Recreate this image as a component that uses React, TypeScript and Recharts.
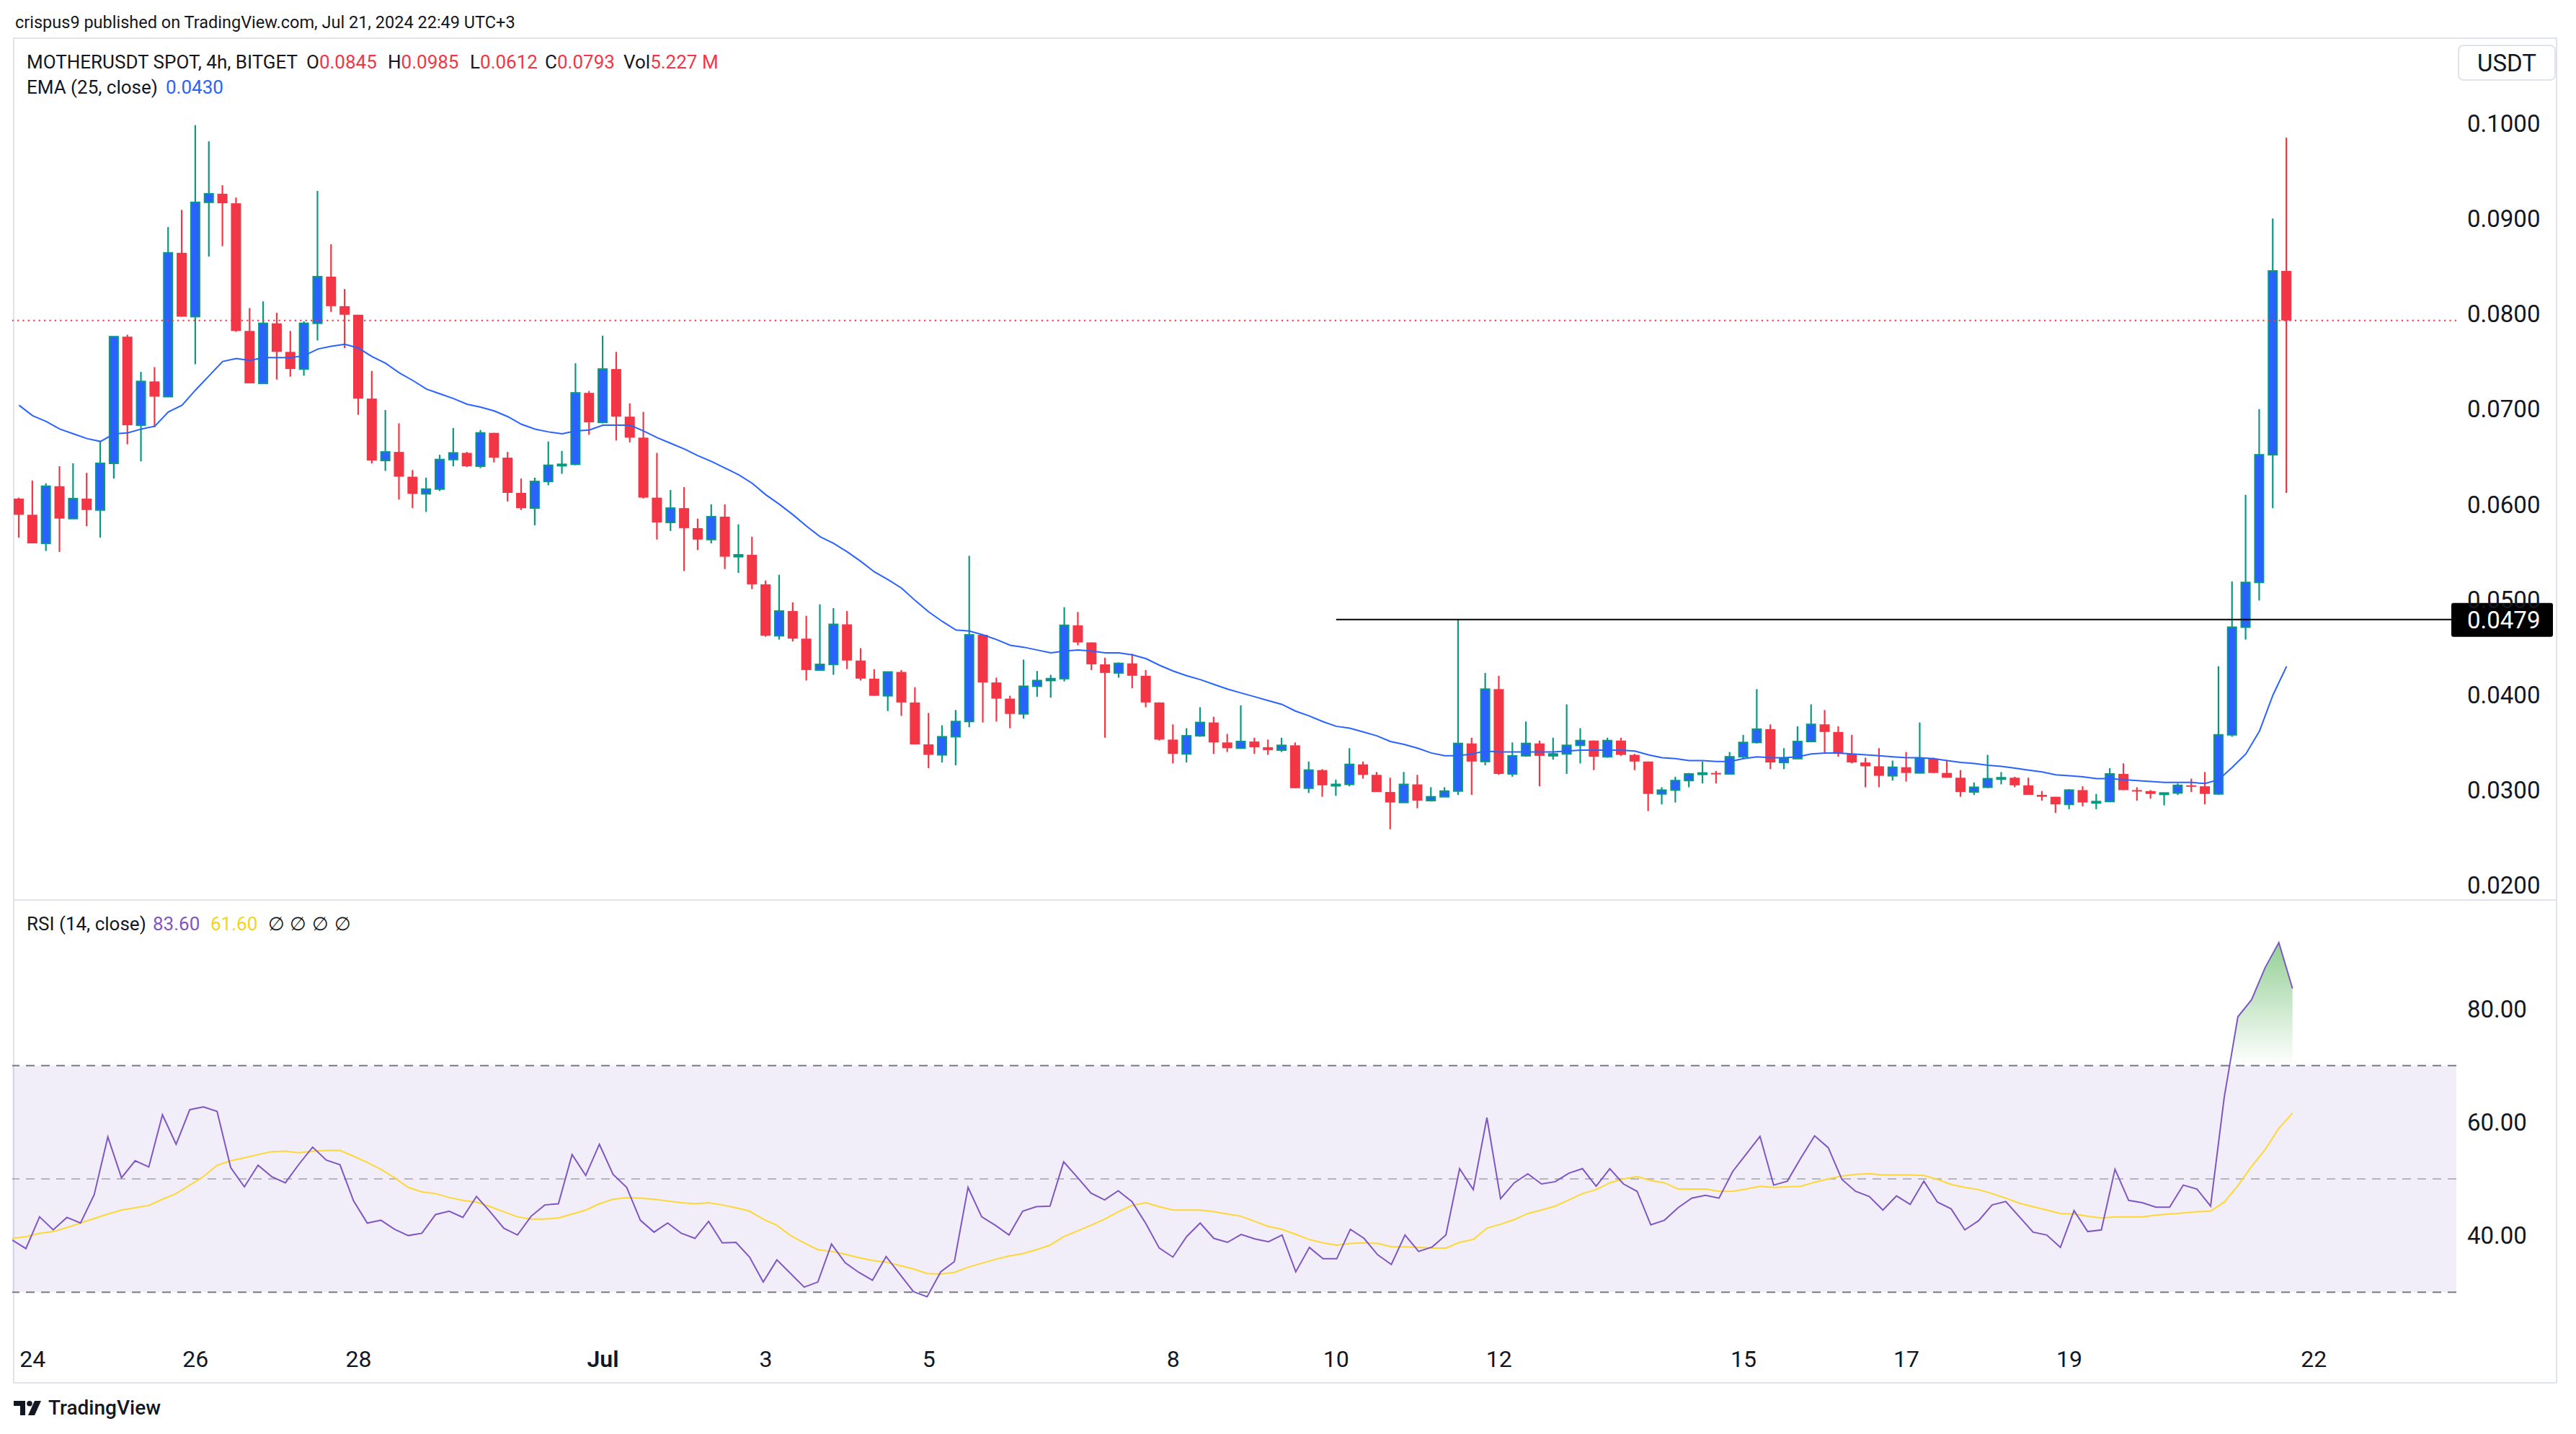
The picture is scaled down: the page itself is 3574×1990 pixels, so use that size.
import React from 'react';
import { ComposedChart, Bar, Line, Area, XAxis, YAxis, ReferenceLine, ReferenceArea } from 'recharts';

const FONT = 'Roboto, "Noto Sans", sans-serif';
const INK = '#131722';
const UP_FILL = '#2962ff';
const UP_EDGE = '#089981';
const DOWN = '#f23645';
const FRAME = '#e0e3eb';

// MOTHERUSDT 4h candles, Jun 23 20:00 -> Jul 21 16:00
const opens = [
  0.0606, 0.0589, 0.0559, 0.0619, 0.0585, 0.0606, 0.0594, 0.0643, 0.0776, 0.0683,
  0.0729, 0.0713, 0.0864, 0.0797, 0.0917, 0.0926, 0.0916, 0.0782, 0.0727, 0.0790,
  0.0760, 0.0742, 0.0790, 0.0839, 0.0808, 0.0799, 0.0711, 0.0646, 0.0655, 0.0629,
  0.0611, 0.0616, 0.0647, 0.0654, 0.0640, 0.0675, 0.0649, 0.0612, 0.0596, 0.0624,
  0.0641, 0.0642, 0.0717, 0.0686, 0.0742, 0.0692, 0.0670, 0.0607, 0.0581, 0.0596,
  0.0575, 0.0563, 0.0587, 0.0545, 0.0547, 0.0516, 0.0462, 0.0488, 0.0459, 0.0426,
  0.0432, 0.0474, 0.0436, 0.0417, 0.0399, 0.0424, 0.0392, 0.0348, 0.0337, 0.0356,
  0.0372, 0.0463, 0.0413, 0.0396, 0.0380, 0.0409, 0.0415, 0.0417, 0.0473, 0.0455,
  0.0432, 0.0423, 0.0433, 0.0420, 0.0392, 0.0353, 0.0338, 0.0357, 0.0371, 0.0350,
  0.0344, 0.0351, 0.0345, 0.0342, 0.0347, 0.0302, 0.0321, 0.0305, 0.0306, 0.0327,
  0.0316, 0.0298, 0.0287, 0.0306, 0.0289, 0.0293, 0.0299, 0.0349, 0.0330, 0.0406,
  0.0317, 0.0336, 0.0349, 0.0336, 0.0338, 0.0347, 0.0352, 0.0335, 0.0352, 0.0337,
  0.0330, 0.0296, 0.0300, 0.0310, 0.0317, 0.0318, 0.0317, 0.0335, 0.0350, 0.0364,
  0.0329, 0.0333, 0.0351, 0.0369, 0.0361, 0.0338, 0.0329, 0.0325, 0.0315, 0.0324,
  0.0318, 0.0333, 0.0318, 0.0313, 0.0298, 0.0303, 0.0312, 0.0313, 0.0305, 0.0295,
  0.0293, 0.0285, 0.0300, 0.0287, 0.0288, 0.0317, 0.0300, 0.0299, 0.0296, 0.0297,
  0.0305, 0.0304, 0.0296, 0.0358, 0.0471, 0.0518, 0.0652, 0.0845,
];
const highs = [
  0.0607, 0.0625, 0.0622, 0.0640, 0.0643, 0.0633, 0.0666, 0.0776, 0.0778, 0.0739,
  0.0744, 0.0891, 0.0909, 0.0998, 0.0981, 0.0935, 0.0922, 0.0806, 0.0813, 0.0801,
  0.0782, 0.0792, 0.0929, 0.0873, 0.0826, 0.0799, 0.0740, 0.0699, 0.0685, 0.0636,
  0.0628, 0.0652, 0.0680, 0.0655, 0.0678, 0.0675, 0.0655, 0.0627, 0.0628, 0.0666,
  0.0656, 0.0748, 0.0719, 0.0777, 0.0760, 0.0706, 0.0697, 0.0654, 0.0615, 0.0618,
  0.0585, 0.0600, 0.0600, 0.0579, 0.0566, 0.0520, 0.0526, 0.0497, 0.0483, 0.0495,
  0.0491, 0.0488, 0.0449, 0.0427, 0.0424, 0.0426, 0.0408, 0.0381, 0.0368, 0.0384,
  0.0546, 0.0463, 0.0418, 0.0399, 0.0437, 0.0425, 0.0421, 0.0492, 0.0487, 0.0455,
  0.0439, 0.0434, 0.0443, 0.0426, 0.0392, 0.0369, 0.0365, 0.0387, 0.0377, 0.0359,
  0.0389, 0.0355, 0.0353, 0.0355, 0.0350, 0.0330, 0.0322, 0.0311, 0.0344, 0.0330,
  0.0319, 0.0313, 0.0319, 0.0316, 0.0303, 0.0303, 0.0479, 0.0355, 0.0423, 0.0420,
  0.0350, 0.0372, 0.0352, 0.0355, 0.0390, 0.0365, 0.0352, 0.0355, 0.0355, 0.0338,
  0.0330, 0.0303, 0.0314, 0.0318, 0.0330, 0.0320, 0.0340, 0.0358, 0.0406, 0.0369,
  0.0344, 0.0367, 0.0390, 0.0384, 0.0367, 0.0358, 0.0334, 0.0344, 0.0331, 0.0340,
  0.0371, 0.0334, 0.0331, 0.0321, 0.0308, 0.0337, 0.0319, 0.0314, 0.0313, 0.0299,
  0.0293, 0.0301, 0.0304, 0.0296, 0.0323, 0.0328, 0.0303, 0.0300, 0.0297, 0.0307,
  0.0312, 0.0319, 0.0430, 0.0519, 0.0610, 0.0700, 0.0900, 0.0985,
];
const lows = [
  0.0565, 0.0559, 0.0551, 0.0550, 0.0585, 0.0577, 0.0565, 0.0627, 0.0663, 0.0645,
  0.0681, 0.0713, 0.0797, 0.0747, 0.0860, 0.0871, 0.0781, 0.0727, 0.0727, 0.0731,
  0.0734, 0.0735, 0.0772, 0.0802, 0.0764, 0.0694, 0.0643, 0.0635, 0.0605, 0.0596,
  0.0592, 0.0614, 0.0640, 0.0639, 0.0638, 0.0644, 0.0603, 0.0594, 0.0578, 0.0620,
  0.0632, 0.0641, 0.0673, 0.0685, 0.0667, 0.0665, 0.0606, 0.0563, 0.0572, 0.0530,
  0.0552, 0.0559, 0.0532, 0.0528, 0.0511, 0.0461, 0.0458, 0.0456, 0.0415, 0.0426,
  0.0421, 0.0427, 0.0415, 0.0399, 0.0383, 0.0378, 0.0348, 0.0323, 0.0329, 0.0326,
  0.0366, 0.0371, 0.0372, 0.0365, 0.0375, 0.0398, 0.0397, 0.0414, 0.0452, 0.0426,
  0.0355, 0.0418, 0.0407, 0.0387, 0.0352, 0.0328, 0.0329, 0.0356, 0.0338, 0.0340,
  0.0344, 0.0338, 0.0337, 0.0340, 0.0302, 0.0297, 0.0293, 0.0294, 0.0304, 0.0312,
  0.0298, 0.0259, 0.0287, 0.0281, 0.0288, 0.0293, 0.0295, 0.0295, 0.0326, 0.0316,
  0.0314, 0.0335, 0.0304, 0.0332, 0.0317, 0.0328, 0.0321, 0.0334, 0.0336, 0.0321,
  0.0278, 0.0285, 0.0287, 0.0303, 0.0307, 0.0307, 0.0317, 0.0333, 0.0349, 0.0322,
  0.0322, 0.0333, 0.0351, 0.0338, 0.0335, 0.0328, 0.0303, 0.0303, 0.0310, 0.0309,
  0.0318, 0.0318, 0.0313, 0.0293, 0.0295, 0.0302, 0.0306, 0.0303, 0.0295, 0.0289,
  0.0276, 0.0280, 0.0283, 0.0280, 0.0288, 0.0300, 0.0289, 0.0291, 0.0284, 0.0295,
  0.0298, 0.0285, 0.0295, 0.0356, 0.0458, 0.0499, 0.0596, 0.0612,
];
const closes = [
  0.0589, 0.0559, 0.0619, 0.0585, 0.0606, 0.0594, 0.0643, 0.0776, 0.0683, 0.0729,
  0.0713, 0.0864, 0.0797, 0.0917, 0.0926, 0.0916, 0.0782, 0.0727, 0.0790, 0.0760,
  0.0742, 0.0790, 0.0839, 0.0808, 0.0799, 0.0711, 0.0646, 0.0655, 0.0629, 0.0611,
  0.0616, 0.0647, 0.0654, 0.0640, 0.0675, 0.0649, 0.0612, 0.0596, 0.0624, 0.0641,
  0.0642, 0.0717, 0.0686, 0.0742, 0.0692, 0.0670, 0.0607, 0.0581, 0.0596, 0.0575,
  0.0563, 0.0587, 0.0545, 0.0547, 0.0516, 0.0462, 0.0488, 0.0459, 0.0426, 0.0432,
  0.0474, 0.0436, 0.0417, 0.0399, 0.0424, 0.0392, 0.0348, 0.0337, 0.0356, 0.0372,
  0.0463, 0.0413, 0.0396, 0.0380, 0.0409, 0.0415, 0.0417, 0.0473, 0.0455, 0.0432,
  0.0423, 0.0433, 0.0420, 0.0392, 0.0353, 0.0338, 0.0357, 0.0371, 0.0350, 0.0344,
  0.0351, 0.0345, 0.0342, 0.0347, 0.0302, 0.0321, 0.0305, 0.0306, 0.0327, 0.0316,
  0.0298, 0.0287, 0.0306, 0.0289, 0.0293, 0.0299, 0.0349, 0.0330, 0.0406, 0.0317,
  0.0336, 0.0349, 0.0336, 0.0338, 0.0347, 0.0352, 0.0335, 0.0352, 0.0337, 0.0330,
  0.0296, 0.0300, 0.0310, 0.0317, 0.0318, 0.0317, 0.0335, 0.0350, 0.0364, 0.0329,
  0.0333, 0.0351, 0.0369, 0.0361, 0.0338, 0.0329, 0.0325, 0.0315, 0.0324, 0.0318,
  0.0333, 0.0318, 0.0313, 0.0298, 0.0303, 0.0312, 0.0313, 0.0305, 0.0295, 0.0293,
  0.0285, 0.0300, 0.0287, 0.0288, 0.0317, 0.0300, 0.0299, 0.0296, 0.0297, 0.0305,
  0.0304, 0.0296, 0.0358, 0.0471, 0.0518, 0.0652, 0.0845, 0.0793,
];

// EMA (25, close)
const ema25 = [
  0.0704, 0.0693, 0.0687, 0.0679, 0.0674, 0.0669, 0.0666, 0.0674, 0.0675, 0.0679,
  0.0682, 0.0697, 0.0704, 0.0720, 0.0735, 0.0750, 0.0753, 0.0751, 0.0754, 0.0754,
  0.0754, 0.0756, 0.0763, 0.0766, 0.0768, 0.0764, 0.0755, 0.0748, 0.0738, 0.0730,
  0.0721, 0.0716, 0.0711, 0.0705, 0.0702, 0.0698, 0.0692, 0.0684, 0.0679, 0.0676,
  0.0674, 0.0677, 0.0678, 0.0683, 0.0683, 0.0683, 0.0677, 0.0670, 0.0664, 0.0658,
  0.0651, 0.0645, 0.0638, 0.0631, 0.0622, 0.0610, 0.0600, 0.0589, 0.0577, 0.0566,
  0.0559, 0.0550, 0.0540, 0.0529, 0.0521, 0.0512, 0.0499, 0.0487, 0.0477, 0.0468,
  0.0467, 0.0463, 0.0458, 0.0452, 0.0450, 0.0447, 0.0444, 0.0446, 0.0447, 0.0446,
  0.0444, 0.0444, 0.0442, 0.0438, 0.0431, 0.0425, 0.0420, 0.0416, 0.0411, 0.0406,
  0.0402, 0.0398, 0.0394, 0.0390, 0.0383, 0.0378, 0.0372, 0.0367, 0.0365, 0.0361,
  0.0357, 0.0351, 0.0348, 0.0344, 0.0339, 0.0336, 0.0336, 0.0338, 0.0341, 0.0340,
  0.0340, 0.0340, 0.0340, 0.0340, 0.0341, 0.0342, 0.0342, 0.0342, 0.0342, 0.0341,
  0.0337, 0.0334, 0.0333, 0.0331, 0.0331, 0.0330, 0.0330, 0.0333, 0.0335, 0.0334,
  0.0334, 0.0335, 0.0338, 0.0339, 0.0339, 0.0338, 0.0337, 0.0336, 0.0335, 0.0334,
  0.0334, 0.0333, 0.0331, 0.0329, 0.0328, 0.0326, 0.0325, 0.0323, 0.0321, 0.0319,
  0.0316, 0.0315, 0.0314, 0.0312, 0.0312, 0.0311, 0.0310, 0.0309, 0.0308, 0.0308,
  0.0308, 0.0307, 0.0311, 0.0324, 0.0338, 0.0362, 0.0400, 0.0430,
];

// RSI (14, close) and its moving average
const rsi14 = [
  39.2, 37.7, 43.3, 41.0, 43.2, 42.2, 47.2, 57.4, 50.2, 53.2,
  52.1, 61.3, 56.1, 62.2, 62.7, 61.9, 52.0, 48.6, 52.4, 50.4,
  49.3, 52.6, 55.6, 53.3, 52.5, 46.1, 42.2, 42.7, 41.1, 40.0,
  40.4, 43.7, 44.3, 43.2, 46.9, 44.2, 41.3, 40.1, 43.4, 45.4,
  45.6, 54.3, 50.6, 56.1, 50.8, 48.5, 42.7, 40.6, 42.2, 40.4,
  39.5, 42.5, 38.7, 38.8, 36.2, 31.8, 35.7, 33.3, 30.9, 31.8,
  38.5, 35.2, 33.5, 32.1, 36.3, 33.2, 30.1, 29.2, 33.6, 35.4,
  48.5, 43.3, 41.8, 40.1, 44.3, 45.1, 45.2, 53.0, 50.3, 47.5,
  46.3, 47.9, 46.0, 42.2, 37.8, 36.2, 39.8, 42.2, 39.5, 38.8,
  40.2, 39.4, 38.9, 40.1, 33.6, 37.9, 35.9, 35.9, 41.1, 39.5,
  36.6, 34.9, 40.1, 37.2, 38.0, 40.1, 51.8, 48.1, 60.8, 46.5,
  49.3, 50.9, 49.1, 49.5, 51.0, 51.8, 48.7, 51.8, 49.1, 47.8,
  41.9, 42.7, 44.9, 46.6, 47.1, 46.6, 51.3, 54.4, 57.5, 48.9,
  49.6, 53.7, 57.6, 55.5, 49.9, 47.8, 46.9, 44.5, 47.0, 45.5,
  49.6, 45.9, 44.7, 41.0, 42.6, 45.4, 46.0, 43.3, 40.6, 40.1,
  37.9, 44.4, 40.7, 41.0, 51.7, 46.2, 45.8, 45.0, 45.0, 48.9,
  48.2, 45.2, 64.4, 78.6, 81.6, 87.3, 91.7, 83.6,
];
const rsiMa = [
  39.5, 39.8, 40.4, 40.7, 41.4, 42.2, 43.0, 43.8, 44.5, 44.9,
  45.3, 46.4, 47.4, 48.9, 50.4, 52.4, 53.2, 53.7, 54.3, 54.8,
  54.9, 54.6, 54.9, 55.0, 55.0, 54.0, 52.9, 51.7, 50.2, 48.5,
  47.7, 47.4, 46.7, 46.2, 45.9, 45.1, 44.2, 43.3, 42.9, 42.9,
  43.1, 43.8, 44.5, 45.6, 46.4, 46.7, 46.6, 46.4, 46.1, 45.8,
  45.6, 45.8, 45.4, 44.9, 44.3, 42.9, 41.8, 40.0, 38.7, 37.5,
  37.2, 36.7, 36.1, 35.6, 35.3, 34.7, 34.1, 33.3, 33.2, 33.5,
  34.4, 35.1, 35.8, 36.4, 36.8, 37.5, 38.3, 39.8, 40.8, 41.8,
  42.9, 44.2, 45.3, 45.8, 45.1, 44.5, 44.5, 44.5, 44.2, 43.8,
  43.4, 42.5, 41.6, 41.1, 40.2, 39.3, 38.7, 38.3, 38.6, 38.7,
  38.6, 38.0, 38.0, 37.9, 37.8, 37.8, 38.8, 39.3, 41.3, 42.0,
  42.8, 43.9, 44.5, 45.2, 46.3, 47.4, 48.1, 49.3, 50.0, 50.4,
  49.7, 49.3, 48.2, 48.2, 48.2, 47.8, 47.8, 48.2, 48.7, 48.5,
  48.6, 48.7, 49.4, 50.0, 50.5, 50.8, 50.9, 50.7, 50.7, 50.7,
  50.6, 49.9, 49.0, 48.5, 48.1, 47.4, 46.6, 45.7, 45.1, 44.5,
  43.9, 43.8, 43.4, 43.1, 43.3, 43.3, 43.3, 43.6, 43.8, 44.0,
  44.2, 44.3, 45.9, 48.8, 52.2, 55.2, 58.9, 61.6,
];

// time axis: candle index where each day starts
const dayTicks = [1, 13, 25, 43, 55, 67, 85, 97, 109, 127, 139, 151, 169];
const dayLabels = ['24', '26', '28', 'Jul', '3', '5', '8', '10', '12', '15', '17', '19', '22'];
const priceTicks = [0.02, 0.03, 0.04, 0.05, 0.06, 0.07, 0.08, 0.09, 0.1];
const rsiTicks = [40, 60, 80];

const breakoutLevel = 0.0479;
const breakoutFrom = 97; // drawn from Jul 10
const overboughtFrom = 161;
const slotCount = 180; // candles + empty space on the right

const lastClose = closes[closes.length - 1];

const rows = Array.from({ length: slotCount }, (_, i) => {
  if (i >= closes.length) return { i };
  return {
    i,
    o: opens[i],
    h: highs[i],
    l: lows[i],
    c: closes[i],
    range: [lows[i], highs[i]],
    ema: ema25[i],
    rsi: rsi14[i],
    rsiMa: rsiMa[i],
    ob: i >= overboughtFrom ? rsi14[i] : null,
  };
});

const Candle = (props: any) => {
  const { x, y, width, height, payload } = props;
  if (!payload || payload.o == null || !isFinite(y) || !isFinite(height)) return <g />;
  const { o, h, l, c } = payload;
  const top = Math.min(y, y + height);
  const span = Math.abs(height);
  const py = (p: number) => top + ((h - p) / (h - l)) * span;
  const up = c >= o;
  const cx = x + width / 2;
  const bodyTop = py(Math.max(o, c));
  const bodyH = Math.max(py(Math.min(o, c)) - bodyTop, 2);
  return (
    <g>
      <line x1={cx} x2={cx} y1={py(h)} y2={py(l)} stroke={up ? UP_EDGE : DOWN} strokeWidth={2.2} />
      {up ? (
        <rect x={x + 1} y={bodyTop} width={width - 2} height={bodyH} fill={UP_FILL} stroke={UP_EDGE} strokeWidth={2} />
      ) : (
        <rect x={x} y={bodyTop} width={width} height={bodyH} fill={DOWN} />
      )}
    </g>
  );
};

const LevelTag = (props: any) => {
  const vb = props.viewBox;
  if (!vb) return null;
  const x = vb.x + vb.width;
  const y = vb.y;
  return (
    <g>
      <rect x={x - 7} y={y - 23} width={141} height={47} rx={3} fill="#000" />
      <text x={x + 15} y={y} dy="0.355em" fill="#fff" fontSize={33} fontFamily={FONT}>
        {breakoutLevel.toFixed(4)}
      </text>
    </g>
  );
};

const DayTick = (props: any) => {
  const { x, y, payload } = props;
  const label = dayLabels[dayTicks.indexOf(payload.value)] ?? '';
  return (
    <text x={x} y={y + 22} textAnchor="middle" fontFamily={FONT} fontSize={32} fontWeight={label === 'Jul' ? 600 : 400} fill={INK}>
      {label}
    </text>
  );
};

const axisTick = { fill: INK, fontSize: 33, fontFamily: FONT };

const legendRow: React.CSSProperties = {
  position: 'absolute',
  fontFamily: FONT,
  fontSize: 26,
  lineHeight: '30px',
  color: INK,
  whiteSpace: 'nowrap',
};

const at = (left: number, top: number, color = INK): React.CSSProperties => ({ ...legendRow, left, top, color });

export default function App() {
  return (
    <div style={{ position: 'relative', width: 3574, height: 1990, background: '#fff', overflow: 'hidden' }}>
      <style>{'body{margin:0}'}</style>

      <div style={{ ...at(21, 16), fontSize: 23.5 }}>crispus9 published on TradingView.com, Jul 21, 2024 22:49 UTC+3</div>

      {/* frame + pane separator */}
      <div style={{ position: 'absolute', left: 18, top: 52, width: 3530, height: 1868, border: `2px solid ${FRAME}`, boxSizing: 'border-box' }} />
      <div style={{ position: 'absolute', left: 18, top: 1248, width: 3530, height: 2, background: FRAME }} />

      <div style={{ position: 'absolute', left: 17, top: 53 }}>
        <ComposedChart width={3530} height={1196} data={rows} margin={{ top: 0, right: 0, bottom: 0, left: 0 }}>
          <XAxis dataKey="i" type="category" hide />
          <XAxis xAxisId="n" dataKey="i" type="number" domain={[-0.5, slotCount - 0.5]} allowDataOverflow hide />
          <YAxis
            orientation="right"
            width={139}
            domain={[0.01846, 0.10893]}
            allowDataOverflow
            ticks={priceTicks}
            interval={0}
            tickFormatter={(v: number) => v.toFixed(4)}
            axisLine={false}
            tickLine={false}
            tickSize={0}
            tickMargin={15}
            tick={axisTick}
          />
          <ReferenceLine y={lastClose} stroke={DOWN} strokeWidth={2} strokeDasharray="2.2 5.2" />
          <Bar dataKey="range" barSize={14} shape={<Candle />} isAnimationActive={false} />
          <Line dataKey="ema" stroke="#2962ff" strokeWidth={2} dot={false} activeDot={false} isAnimationActive={false} />
          <ReferenceLine
            xAxisId="n"
            segment={[{ x: breakoutFrom, y: breakoutLevel }, { x: slotCount - 0.5, y: breakoutLevel }]}
            stroke="#000"
            strokeWidth={2}
            label={<LevelTag />}
          />
        </ComposedChart>
      </div>

      <div style={{ position: 'absolute', left: 17, top: 1250 }}>
        <ComposedChart width={3530} height={669} data={rows} margin={{ top: 0, right: 0, bottom: 0, left: 0 }}>
          <defs>
            <linearGradient id="obFade" gradientUnits="userSpaceOnUse" x1={0} y1={58} x2={0} y2={229}>
              <stop offset="0" stopColor="#4caf50" stopOpacity={0.6} />
              <stop offset="1" stopColor="#4caf50" stopOpacity={0} />
            </linearGradient>
          </defs>
          <XAxis dataKey="i" type="category" hide />
          <XAxis
            xAxisId="n"
            dataKey="i"
            type="number"
            domain={[-0.5, slotCount - 0.5]}
            allowDataOverflow
            ticks={dayTicks}
            interval={0}
            height={74}
            axisLine={false}
            tickLine={false}
            tickSize={0}
            tickMargin={0}
            tick={<DayTick />}
          />
          <YAxis
            orientation="right"
            width={139}
            domain={[23.42, 99.07]}
            allowDataOverflow
            ticks={rsiTicks}
            interval={0}
            tickFormatter={(v: number) => v.toFixed(2)}
            axisLine={false}
            tickLine={false}
            tickSize={0}
            tickMargin={15}
            tick={axisTick}
          />
          <ReferenceArea y1={30} y2={70} fill="#7e57c2" fillOpacity={0.1} stroke="none" />
          <ReferenceLine y={70} stroke="#787b86" strokeWidth={2} strokeDasharray="12 9" />
          <ReferenceLine y={50} stroke="#787b86" strokeOpacity={0.5} strokeWidth={2} strokeDasharray="12 9" />
          <ReferenceLine y={30} stroke="#787b86" strokeWidth={2} strokeDasharray="12 9" />
          <Area dataKey="ob" baseValue={70} stroke="none" fill="url(#obFade)" fillOpacity={1} isAnimationActive={false} activeDot={false} />
          <Line dataKey="rsiMa" stroke="#fdd835" strokeWidth={2} dot={false} activeDot={false} isAnimationActive={false} />
          <Line dataKey="rsi" stroke="#7e57c2" strokeWidth={2} dot={false} activeDot={false} isAnimationActive={false} />
        </ComposedChart>
      </div>

      {/* legends */}
      <div style={at(37, 71)}>MOTHERUSDT SPOT, 4h, BITGET</div>
      <div style={at(425, 71)}>O<span style={{ color: DOWN }}>{opens[167].toFixed(4)}</span></div>
      <div style={at(538, 71)}>H<span style={{ color: DOWN }}>{highs[167].toFixed(4)}</span></div>
      <div style={at(652, 71)}>L<span style={{ color: DOWN }}>{lows[167].toFixed(4)}</span></div>
      <div style={at(756, 71)}>C<span style={{ color: DOWN }}>{lastClose.toFixed(4)}</span></div>
      <div style={at(865, 71)}>Vol<span style={{ color: DOWN }}>5.227 M</span></div>
      <div style={at(37, 106)}>EMA (25, close)</div>
      <div style={at(230, 106, '#2962ff')}>{ema25[ema25.length - 1].toFixed(4)}</div>

      <div style={at(37, 1267)}>RSI (14, close)</div>
      <div style={at(212, 1267, '#7e57c2')}>{rsi14[rsi14.length - 1].toFixed(2)}</div>
      <div style={at(292, 1267, '#f5d320')}>{rsiMa[rsiMa.length - 1].toFixed(2)}</div>
      <div style={at(372, 1267)}>∅</div>
      <div style={at(402, 1267)}>∅</div>
      <div style={at(433, 1267)}>∅</div>
      <div style={at(464, 1267)}>∅</div>

      {/* currency box */}
      <div
        style={{
          position: 'absolute', left: 3410, top: 62, width: 136, height: 50, boxSizing: 'border-box',
          border: `2px solid ${FRAME}`, borderRadius: 8, fontFamily: FONT, fontSize: 33, color: INK,
          display: 'flex', alignItems: 'center', justifyContent: 'center',
        }}
      >
        USDT
      </div>

      {/* TradingView mark */}
      <svg style={{ position: 'absolute', left: 19, top: 1944 }} width={40} height={20} viewBox="0 0 40 20">
        <polygon points="0,0 16,0 16,20 9,20 9,7 0,7" fill={INK} />
        <circle cx={22} cy={3.8} r={3.8} fill={INK} />
        <polygon points="29,0 38,0 29,20 20,20" fill={INK} />
      </svg>
      <div style={{ ...at(67, 1938), fontSize: 28, lineHeight: '32px', fontWeight: 500 }}>TradingView</div>
    </div>
  );
}
